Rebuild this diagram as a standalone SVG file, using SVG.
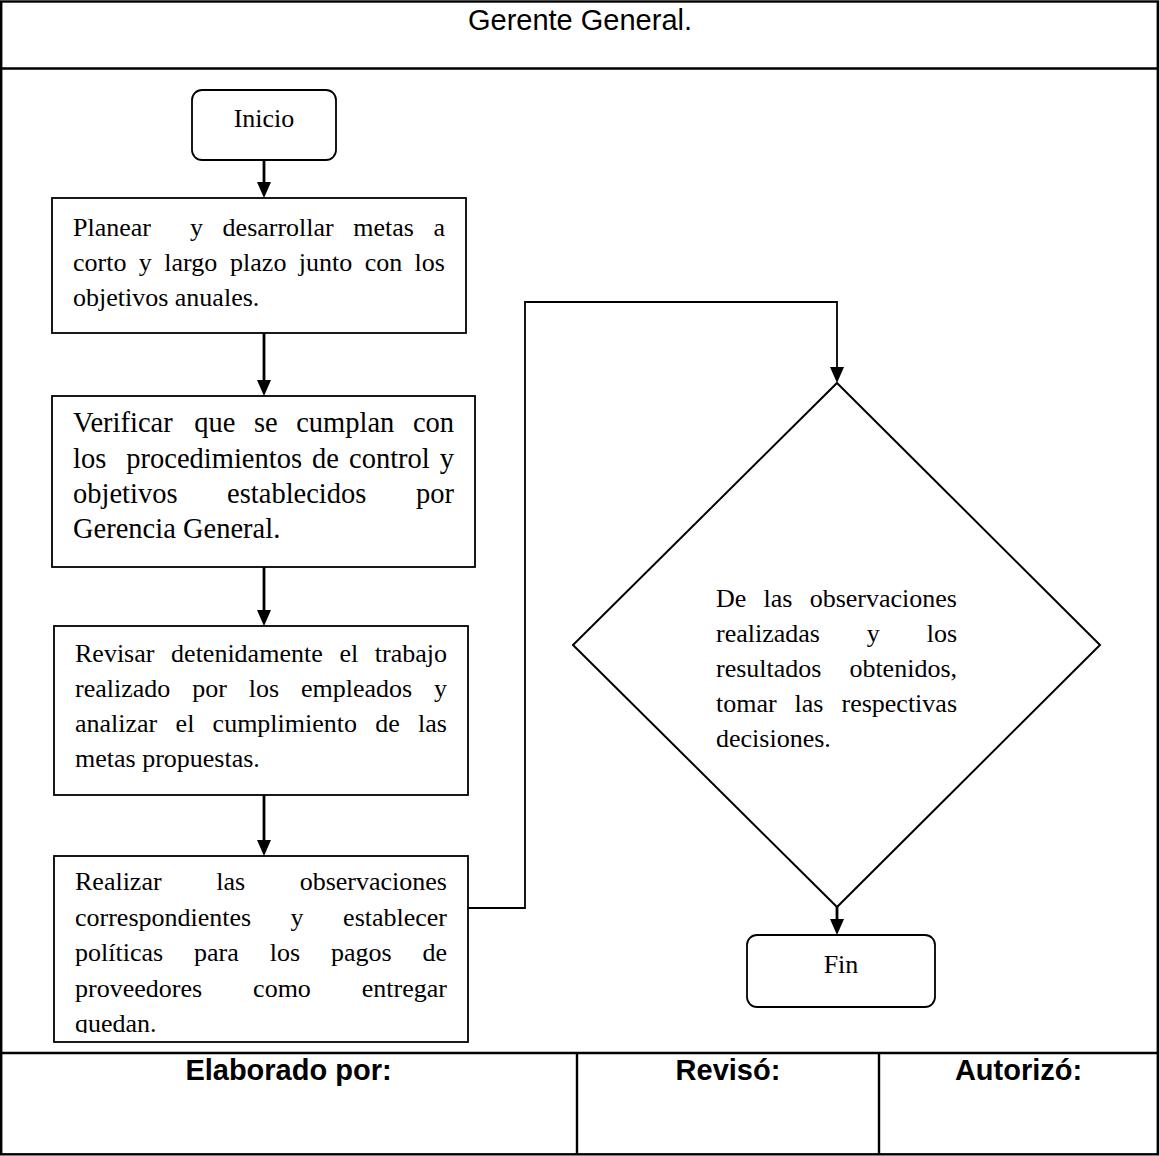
<svg xmlns="http://www.w3.org/2000/svg" width="1159" height="1156" viewBox="0 0 1159 1156">
  <defs>
    <style>
      .frame { fill: none; stroke: #000; stroke-width: 2.4; }
      .box { fill: #fff; stroke: #000; stroke-width: 1.8; }
      .flow { fill: none; stroke: #000; stroke-width: 2.8; }
      .link { fill: none; stroke: #000; stroke-width: 1.8; }
      .txt { font-family: "Liberation Serif", "Times New Roman", serif; font-size: 26px; fill: #000; }
      .big { font-size: 28.5px; }
      .head { font-family: "Liberation Sans", Arial, sans-serif; font-size: 29px; fill: #000; }
      .foot { font-family: "Liberation Sans", Arial, sans-serif; font-size: 29px; font-weight: bold; fill: #000; }
    </style>
    <marker id="arrow" markerUnits="userSpaceOnUse" viewBox="0 0 16 14" markerWidth="16" markerHeight="14" refX="10" refY="7" orient="auto">
      <path d="M0,0 L16,7 L0,14 z" fill="#000"/>
    </marker>
    <clipPath id="clip-box4">
      <rect x="54" y="856" width="414" height="177"/>
    </clipPath>
  </defs>

  <rect width="1159" height="1156" fill="#fff"/>

  <!-- form frame: header, body and signature row -->
  <g id="frame">
    <rect class="frame" x="1.2" y="1.5" width="1156.6" height="1152.8"/>
    <line class="frame" x1="0" y1="68.5" x2="1159" y2="68.5"/>
    <line class="frame" x1="0" y1="1053" x2="1159" y2="1053"/>
    <line class="frame" x1="577" y1="1053" x2="577" y2="1155"/>
    <line class="frame" x1="879" y1="1053" x2="879" y2="1155"/>
    <text class="head" x="580" y="30" text-anchor="middle">Gerente General.</text>
    <text class="foot" x="288.5" y="1080" text-anchor="middle">Elaborado por:</text>
    <text class="foot" x="728" y="1080" text-anchor="middle">Revisó:</text>
    <text class="foot" x="1018.5" y="1080" text-anchor="middle">Autorizó:</text>
  </g>

  <!-- connectors -->
  <g id="connectors">
    <line class="flow" x1="264" y1="160" x2="264" y2="192" marker-end="url(#arrow)"/>
    <line class="flow" x1="264" y1="333" x2="264" y2="390" marker-end="url(#arrow)"/>
    <line class="flow" x1="264" y1="567" x2="264" y2="620" marker-end="url(#arrow)"/>
    <line class="flow" x1="264" y1="795" x2="264" y2="850" marker-end="url(#arrow)"/>
    <polyline class="link" points="468,908 525,908 525,302 837,302 837,377" marker-end="url(#arrow)"/>
    <line class="flow" x1="837" y1="907" x2="837" y2="929" marker-end="url(#arrow)"/>
  </g>

  <g id="inicio">
    <rect class="box" x="192" y="90" width="144" height="70" rx="10" ry="10"/>
    <text class="txt" x="264" y="127" text-anchor="middle">Inicio</text>
  </g>

  <g id="planear">
    <rect class="box" x="52" y="198" width="414" height="135"/>
    <text class="txt" y="236"><tspan x="73">Planear</tspan><tspan x="190">y</tspan><tspan x="222.6">desarrollar</tspan><tspan x="353.3">metas</tspan><tspan x="433.5">a</tspan></text>
    <text class="txt" y="271"><tspan x="73">corto</tspan><tspan x="138.8">y</tspan><tspan x="164.3">largo</tspan><tspan x="230.1">plazo</tspan><tspan x="298.8">junto</tspan><tspan x="364.7">con</tspan><tspan x="414.6">los</tspan></text>
    <text class="txt" x="73" y="306">objetivos anuales.</text>
  </g>

  <g id="verificar">
    <rect class="box" x="52" y="396" width="423" height="171"/>
    <text class="txt big" y="432"><tspan x="73">Verificar</tspan><tspan x="194.3">que</tspan><tspan x="254">se</tspan><tspan x="296.2">cumplan</tspan><tspan x="412.9">con</tspan></text>
    <text class="txt big" y="467.5"><tspan x="73">los</tspan><tspan x="126.3">procedimientos</tspan><tspan x="312.1">de</tspan><tspan x="349">control</tspan><tspan x="439.7">y</tspan></text>
    <text class="txt big" y="503"><tspan x="73">objetivos</tspan><tspan x="227.1">establecidos</tspan><tspan x="416">por</tspan></text>
    <text class="txt big" x="73" y="538">Gerencia General.</text>
  </g>

  <g id="revisar">
    <rect class="box" x="54" y="626" width="414" height="169"/>
    <text class="txt" y="662"><tspan x="75">Revisar</tspan><tspan x="171.1">detenidamente</tspan><tspan x="339.4">el</tspan><tspan x="374.8">trabajo</tspan></text>
    <text class="txt" y="697"><tspan x="75">realizado</tspan><tspan x="192.2">por</tspan><tspan x="248.7">los</tspan><tspan x="300.9">empleados</tspan><tspan x="434">y</tspan></text>
    <text class="txt" y="732"><tspan x="75">analizar</tspan><tspan x="175.6">el</tspan><tspan x="212.6">cumplimiento</tspan><tspan x="375.3">de</tspan><tspan x="418.1">las</tspan></text>
    <text class="txt" x="75" y="767">metas propuestas.</text>
  </g>

  <g id="realizar">
    <rect class="box" x="54" y="856" width="414" height="186"/>
    <g clip-path="url(#clip-box4)">
      <text class="txt" y="890"><tspan x="75">Realizar</tspan><tspan x="216.2">las</tspan><tspan x="299.7">observaciones</tspan></text>
      <text class="txt" y="925.5"><tspan x="75">correspondientes</tspan><tspan x="290.6">y</tspan><tspan x="343.1">establecer</tspan></text>
      <text class="txt" y="961"><tspan x="75">políticas</tspan><tspan x="194">para</tspan><tspan x="269.7">los</tspan><tspan x="330.9">pagos</tspan><tspan x="422.5">de</tspan></text>
      <text class="txt" y="996.5"><tspan x="75">proveedores</tspan><tspan x="253.1">como</tspan><tspan x="361.8">entregar</tspan></text>
      <text class="txt" x="75" y="1032">quedan.</text>
    </g>
  </g>

  <g id="decision">
    <polygon points="837,383 1100,645 837,907 573,645" fill="#fff" stroke="#000" stroke-width="2"/>
    <text class="txt" y="607"><tspan x="716">De</tspan><tspan x="763.6">las</tspan><tspan x="809.7">observaciones</tspan></text>
    <text class="txt" y="642"><tspan x="716">realizadas</tspan><tspan x="866.8">y</tspan><tspan x="926.7">los</tspan></text>
    <text class="txt" y="677"><tspan x="716">resultados</tspan><tspan x="849.4">obtenidos,</tspan></text>
    <text class="txt" y="712"><tspan x="716">tomar</tspan><tspan x="794.6">las</tspan><tspan x="841.5">respectivas</tspan></text>
    <text class="txt" x="716" y="747">decisiones.</text>
  </g>

  <g id="fin">
    <rect class="box" x="747" y="935" width="188" height="72" rx="10" ry="10"/>
    <text class="txt" x="841" y="973" text-anchor="middle">Fin</text>
  </g>
</svg>
